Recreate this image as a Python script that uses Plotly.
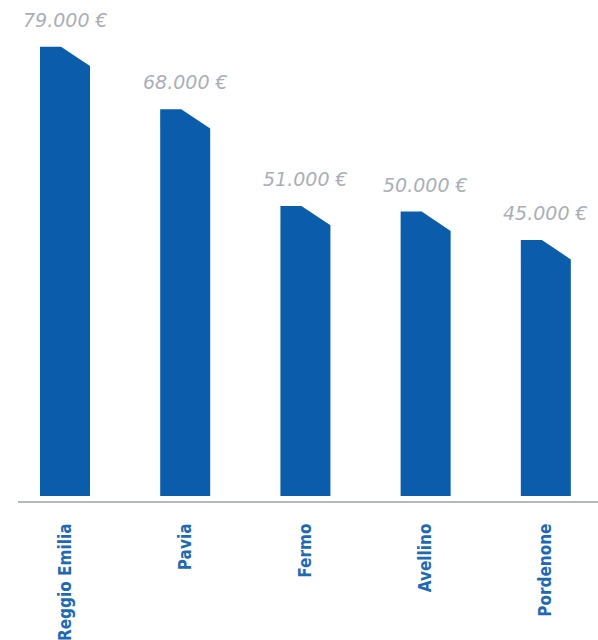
import plotly.graph_objects as go

categories = ["Reggio Emilia", "Pavia", "Fermo", "Avellino", "Pordenone"]
values = [79000, 68000, 51000, 50000, 45000]
value_labels = ["79.000 €", "68.000 €", "51.000 €", "50.000 €", "45.000 €"]

BAR_COLOR = "#0b5dab"
LABEL_COLOR = "#a9afb6"
CAT_COLOR = "#1f68b4"

half_w = 0.208      # half bar width (x units)
flat = 0.175        # flat portion of bar top
drop = 3400         # bevel drop in value units

fig = go.Figure()
for i, v in enumerate(values):
    xl, xr = i - half_w, i + half_w
    fig.add_trace(go.Scatter(
        x=[xl, xl, xl + flat, xr, xr, xl],
        y=[0, v, v, v - drop, 0, 0],
        fill="toself", fillcolor=BAR_COLOR, mode="lines",
        line=dict(width=0, color=BAR_COLOR), hoverinfo="skip", showlegend=False,
    ))
    fig.add_annotation(
        x=i, y=v, text=value_labels[i], showarrow=False,
        yanchor="bottom", yshift=14,
        font=dict(family="DejaVu Sans", size=19, color=LABEL_COLOR, style="italic"),
    )

fig.update_layout(
    width=598, height=640,
    margin=dict(l=18, r=0, t=41, b=139),
    paper_bgcolor="white", plot_bgcolor="white",
    showlegend=False,
    xaxis=dict(
        range=[-0.391, 4.434], tickmode="array",
        tickvals=list(range(len(categories))), ticktext=categories,
        tickangle=-90, showgrid=False, zeroline=False, automargin=False,
        showline=True, linecolor="#b4b8bc", linewidth=1.5,
        ticks="outside", ticklen=14, tickcolor="rgba(0,0,0,0)",
        tickfont=dict(family="DejaVu Sans Condensed, sans-serif",
                      size=17, color=CAT_COLOR, weight="bold"),
        fixedrange=True,
    ),
    yaxis=dict(range=[-880, 80000], visible=False, showgrid=False, zeroline=False,
               automargin=False, fixedrange=True),
)

fig.write_html("out.html")
